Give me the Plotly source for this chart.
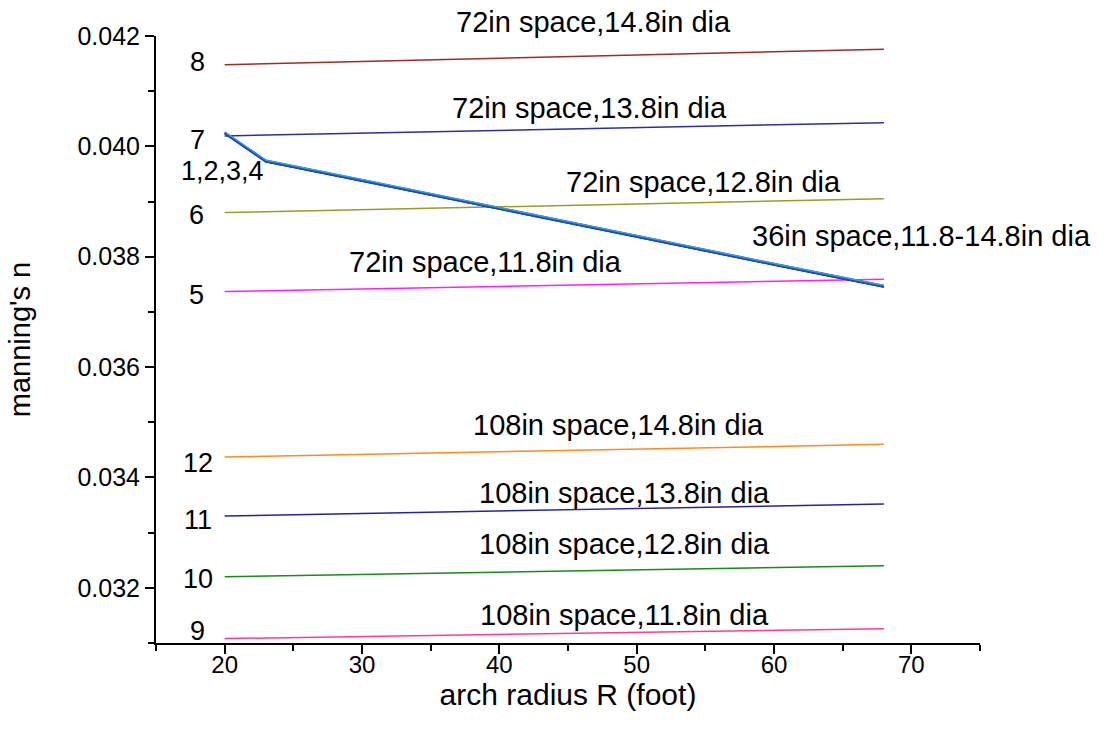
import plotly.graph_objects as go

# arch radius R (foot)
R_flat = [20, 68]
R_curve = [20, 23, 30, 40, 50, 60, 68]

# Manning's n for the fixed-spacing series (end points)
n8 = [0.04148, 0.04176]    # 72in space, 14.8in dia
n7 = [0.04019, 0.04043]    # 72in space, 13.8in dia
n6 = [0.03880, 0.03905]    # 72in space, 12.8in dia
n5 = [0.03737, 0.03759]    # 72in space, 11.8in dia
n12 = [0.03437, 0.03460]   # 108in space, 14.8in dia
n11 = [0.03330, 0.03352]   # 108in space, 13.8in dia
n10 = [0.03220, 0.03240]   # 108in space, 12.8in dia
n9 = [0.03108, 0.03126]    # 108in space, 11.8in dia

# 36in space, 11.8-14.8in dia (series 1-4 nearly coincide)
n1 = [0.04026, 0.03975, 0.03940, 0.03889, 0.03839, 0.03788, 0.03748]
n2 = [0.04024, 0.03973, 0.03938, 0.03887, 0.03837, 0.03786, 0.03746]
n3 = [0.04025, 0.03974, 0.03939, 0.03888, 0.03838, 0.03787, 0.03747]
n4 = [0.04023, 0.03972, 0.03937, 0.03886, 0.03836, 0.03785, 0.03745]

flat_series = [
    (n8, "#9E2A2A"),
    (n7, "#2E2E9E"),
    (n6, "#9C9C22"),
    (n5, "#FF1FFF"),
    (n12, "#FF8A1E"),
    (n11, "#2424A0"),
    (n10, "#1A8A1A"),
    (n9, "#FF3A9A"),
]
curve_series = [
    (n1, "#FF2020", 1.2),
    (n2, "#000000", 2.4),
    (n3, "#22B0B0", 2.4),
    (n4, "#1E3CFF", 1.6),
]

fig = go.Figure()
for vals, col in flat_series:
    fig.add_trace(go.Scatter(x=R_flat, y=vals, mode="lines",
                             line=dict(color=col, width=1.5),
                             showlegend=False, hoverinfo="skip"))
for vals, col, w in curve_series:
    fig.add_trace(go.Scatter(x=R_curve, y=vals, mode="lines",
                             line=dict(color=col, width=w),
                             showlegend=False, hoverinfo="skip"))

font_main = "Liberation Sans, Arial, sans-serif"

# curve number labels
num_labels = [
    ("8", 18.04, 0.04153), ("7", 18.04, 0.04012), ("1,2,3,4", 19.85, 0.03956),
    ("6", 17.97, 0.03875), ("5", 17.97, 0.03730), ("12", 18.04, 0.03426),
    ("11", 18.04, 0.03323), ("10", 18.04, 0.03216), ("9", 18.04, 0.03122),
]
for txt, x, y in num_labels:
    fig.add_annotation(x=x, y=y, text=txt, showarrow=False,
                       xanchor="center", yanchor="middle",
                       font=dict(family=font_main, size=27, color="#000000"))

# description labels (y given in data units)
desc_labels = [
    ("72in space,14.8in dia", 46.84, 0.04225),
    ("72in space,13.8in dia", 46.60, 0.04070),
    ("72in space,12.8in dia", 54.84, 0.03936),
    ("36in space,11.8-14.8in dia", 70.75, 0.03837),
    ("72in space,11.8in dia", 38.98, 0.03790),
    ("108in space,14.8in dia", 48.65, 0.03495),
    ("108in space,13.8in dia", 49.10, 0.03372),
    ("108in space,12.8in dia", 49.10, 0.03280),
    ("108in space,11.8in dia", 49.10, 0.03151),
]
y_lo, y_hi = 0.031, 0.042
for txt, x, y in desc_labels:
    # position vertically in the y-axis domain so labels above the range still show
    fig.add_annotation(x=x, y=(y - y_lo) / (y_hi - y_lo), yref="y domain",
                       text=txt, showarrow=False,
                       xanchor="center", yanchor="middle",
                       font=dict(family=font_main, size=29, color="#000000"))

axis_common = dict(
    showline=True, linecolor="#000000", linewidth=2,
    ticks="outside", tickcolor="#000000", tickwidth=2, ticklen=9,
    showgrid=False, zeroline=False, mirror=False,
)

fig.update_xaxes(
    range=[15, 75], dtick=10, tick0=0,
    tickfont=dict(family=font_main, size=24, color="#000000"),
    ticklabelstandoff=-10,
    title=dict(text="arch radius R (foot)",
               font=dict(family=font_main, size=30, color="#000000"),
               standoff=4),
    minor=dict(dtick=5, tick0=0, ticks="outside", ticklen=6,
               tickcolor="#000000", tickwidth=2, showgrid=False),
    **axis_common,
)
fig.update_yaxes(
    range=[y_lo, y_hi], dtick=0.002, tick0=0, tickformat=".3f",
    tickfont=dict(family=font_main, size=25, color="#000000"),
    title=dict(text="manning's n",
               font=dict(family=font_main, size=29, color="#000000"),
               standoff=38),
    minor=dict(dtick=0.001, tick0=0, ticks="outside", ticklen=6,
               tickcolor="#000000", tickwidth=2, showgrid=False),
    **axis_common,
)

fig.update_layout(
    width=1112, height=735,
    margin=dict(l=156, r=132, t=36, b=92),
    paper_bgcolor="#FFFFFF", plot_bgcolor="#FFFFFF",
    showlegend=False,
)

fig.write_html("out.html")
